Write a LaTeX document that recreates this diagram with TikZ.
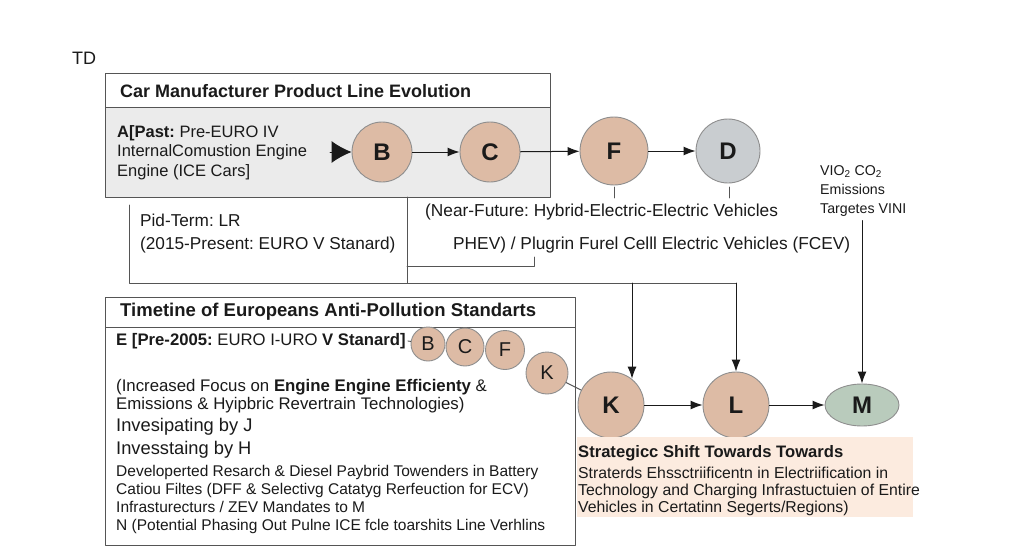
\documentclass[tikz,border=0pt]{standalone}
\usepackage{fontspec}
\setmainfont{Liberation Sans}
\usetikzlibrary{arrows.meta,positioning,shapes.geometric}
\definecolor{cmPeach}{HTML}{DDBBA5}
\definecolor{cmGrey}{HTML}{C9CDD0}
\definecolor{cmSage}{HTML}{B9CBBC}
\definecolor{cmPanel}{HTML}{EBEBEB}
\definecolor{cmLine}{HTML}{555555}
\definecolor{cmRim}{HTML}{8E8E8E}
\definecolor{cmNote}{HTML}{FCEBDF}
\definecolor{cmInk}{HTML}{1A1A1A}
\newcommand{\fs}[2]{\fontsize{#1}{#2}\selectfont}
\frenchspacing

\begin{document}
\begin{tikzpicture}[x=1pt,y=-1pt,>={Latex[length=12pt,width=9pt]},line cap=round,line join=round]
\useasboundingbox[fill=white] (0,0) rectangle (1024,559);
\tikzset{stage/.style={circle,draw=cmRim,fill=cmPeach,line width=0.9pt,minimum size=60pt,inner sep=0pt,font=\bfseries\fs{24}{24},text=cmInk},ministage/.style={stage,minimum size=36pt,font=\fs{20}{20}},link/.style={draw=cmInk,line width=1pt,->},frame/.style={draw=cmLine,line width=0.9pt},txt/.style={anchor=west,inner sep=0pt,text=cmInk,align=left}}
\node[txt,font=\fs{18}{18}] (td) at (72,58) {TD};
% product line panel
\path[frame,fill=cmPanel] (105,107) rectangle (550,197);
\path[frame,fill=white] (105,73) rectangle (550,107);
\node[txt,font=\bfseries\fs{18}{18}] (prodtitle) at (120,91) {Car Manufacturer Product Line Evolution};
\node[txt,font=\fs{16.5}{19.5}] (past) at (117,152.5) {\textbf{A[Past:} Pre-EURO IV\\InternalComustion Engine\\Engine (ICE Cars]};
\node[stage] (B) at (382,152) {B};
\node[stage] (C) at (490,152) {C};
\node[stage,minimum size=68pt] (F) at (614,151) {F};
\node[stage,fill=cmGrey,minimum size=64pt] (D) at (728,151) {D};
\coordinate (atip) at (330,152);
\draw[-{Latex[length=20pt,width=22pt]},draw=cmInk,line width=1pt] (atip) -- (B);
\draw[link] (B) -- (C);
\draw[link] (C) -- (F);
\draw[link] (F) -- (D);
\draw[frame] (614,187) -- (614,198);
\draw[frame] (729,187) -- (729,198);
\node[txt,font=\fs{17.3}{17.3}] (nearfut) at (425,212) {(Near-Future: Hybrid-Electric-Electric Vehicles};
\node[txt,font=\fs{17.3}{17.3}] (phev) at (453,245) {PHEV) / Plugrin Furel Celll Electric Vehicles (FCEV)};
\node[txt,font=\fs{14.2}{19}] (co2) at (820,191) {VIO\textsubscript{2} CO\textsubscript{2}\\Emissions\\Targetes VINI};
% mid term
\node[txt,font=\fs{17.2}{23}] (mid) at (140,233.5) {Pid-Term: LR\\(2015-Present: EURO V Stanard)};
\draw[frame] (129,205) -- (129,283) -- (736,283);
\draw[frame] (407,197) -- (407,283);
\draw[frame] (407,266) -- (534,266) -- (534,257);
\coordinate (kdrop) at (632,283);
\coordinate (ldrop) at (736,283);
% pathway
\node[stage,minimum size=66pt] (K) at (611,405) {K};
\node[stage,minimum size=66pt] (L) at (736,405) {L};
\node[ellipse,draw=cmRim,fill=cmSage,line width=0.9pt,minimum width=74pt,minimum height=42pt,inner sep=0pt,font=\bfseries\fs{24}{24},text=cmInk] (M) at (862,405) {M};
\draw[link] (kdrop) -- (kdrop |- K.52);
\draw[link] (ldrop) -- (L);
\draw[link] ([yshift=-4pt]co2.south -| M.north) -- (M);
\draw[link] (K) -- (L);
\draw[link] (L) -- (M);
% standards panel
\path[frame,fill=white] (105,327) rectangle (575,545);
\path[frame,fill=white] (105,297) rectangle (575,327);
\node[txt,font=\bfseries\fs{18.5}{18.5}] (stdtitle) at (120,312) {Timetine of Europeans Anti-Pollution Standarts};
\node[txt,font=\fs{16.7}{16.7}] (pre) at (116,341) {\textbf{E [Pre-2005:} EURO I-URO \textbf{V Stanard]}};
\node[ministage,minimum size=34pt] (b2) at (428,344) {B};
\node[ministage,minimum size=38pt] (c2) at (465,347) {C};
\node[ministage,minimum size=39pt] (f2) at (505,350) {F};
\node[ministage,minimum size=42pt] (k2) at (547,373) {K};
\draw[frame] ([xshift=2pt]pre.east) -- (b2);
\draw[frame] (k2) -- (K);
\node[txt,font=\fs{16.8}{18}] (focus) at (116,396) {(Increased Focus on \textbf{Engine Engine Efficienty} \&\\Emissions \& Hyipbric Revertrain Technologies)};
\node[txt,font=\fs{18.3}{23}] (invest) at (116,438.5) {Invesipating by J\\Invesstaing by H};
\node[txt,font=\fs{15.5}{18.3}] (detail) at (116,499.5) {Developerted Resarch \& Diesel Paybrid Towenders in Battery\\Catiou Filtes (DFF \& Selectivg Catatyg Rerfeuction for ECV)\\Infrasturecturs / ZEV Mandates to M\\N (Potential Phasing Out Pulne ICE fcle toarshits Line Verhlins};
% strategic note
\path[fill=cmNote] (577,437) rectangle (913,517);
\node[txt,font=\bfseries\fs{16.6}{16.6}] (shift) at (578,453) {Strategicc Shift Towards Towards};
\node[txt,font=\fs{15.8}{17}] (shiftbody) at (578,491) {Straterds Ehssctriificentn in Electriification in\\Technology and Charging Infrastuctuien of Entire\\Vehicles in Certatinn Segerts/Regions)};
\end{tikzpicture}
\end{document}
